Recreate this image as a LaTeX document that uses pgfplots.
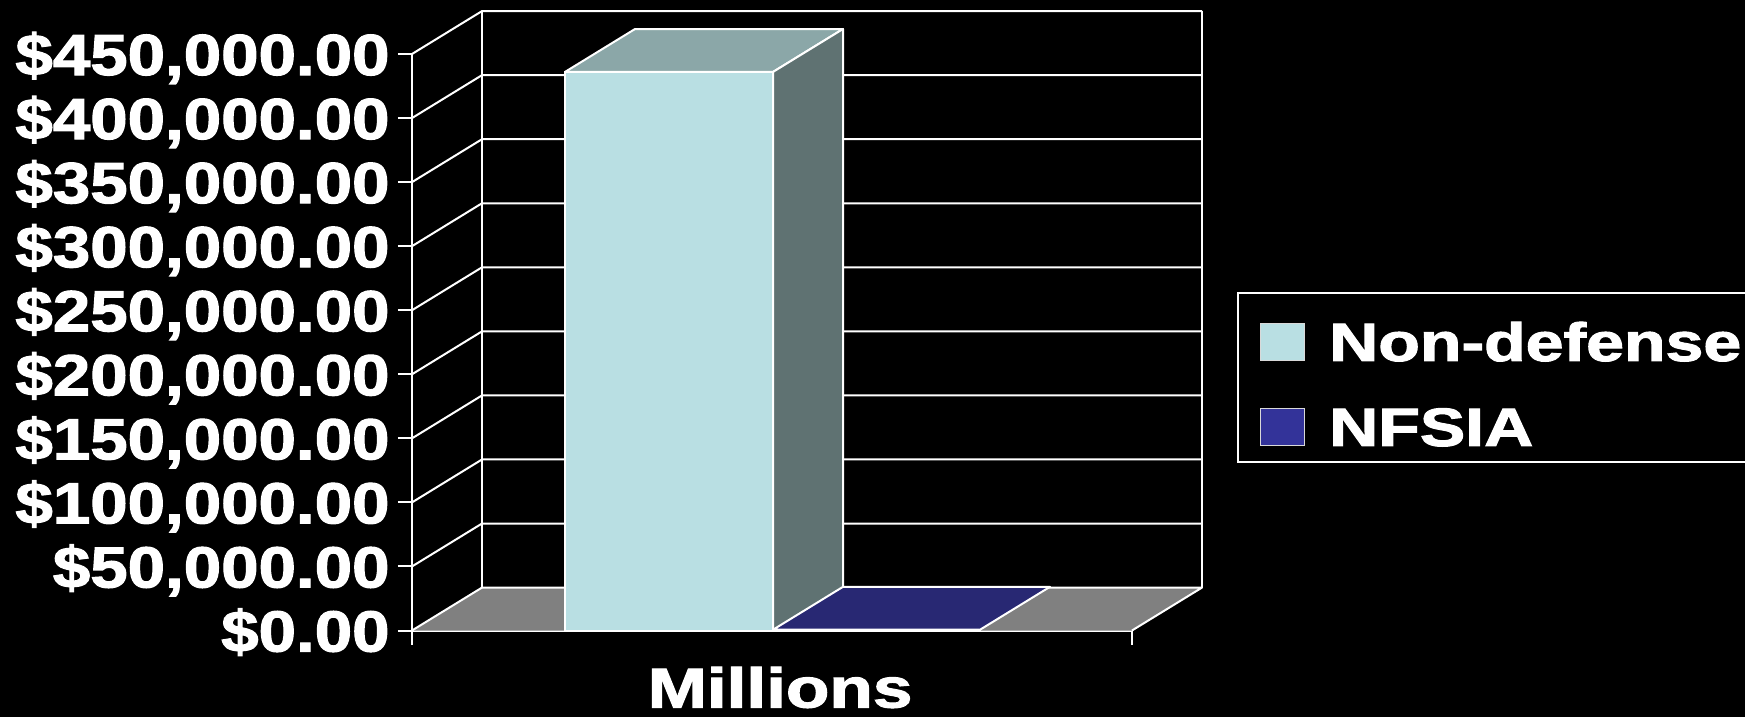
\documentclass[border=0pt]{standalone}
\usepackage{pgfplots}
\pgfplotsset{compat=1.18}
\usepackage{fontspec}
\setmainfont{Liberation Sans}[BoldFeatures={FakeBold=1.8}]
\usepackage{graphicx}
\definecolor{nondef}{HTML}{B9DFE3}
\definecolor{nondeftop}{HTML}{8BA7A8}
\definecolor{nondefside}{HTML}{5F7272}
\definecolor{nfsia}{HTML}{333399}
\definecolor{nfsiatop}{HTML}{282873}
\definecolor{floorgray}{HTML}{808080}
\newcommand\yl[1]{\scalebox{1.16}[1]{#1}}
\begin{document}
\begin{tikzpicture}
\path[use as bounding box, fill=black] (0,0) rectangle (872.5pt,-358.5pt);
\begin{axis}[
 at={(206pt,-315.25pt)}, anchor=south west,
 scale only axis, width=360pt, height=288.25pt,
 xmin=412, xmax=1132, ymin=0, ymax=450000, enlargelimits=false,
 clip=false, scaled y ticks=false,
 axis x line=bottom, axis y line=left,
 axis line style={-, white, line width=1pt},
 every tick/.style={white, line width=1pt},
 tick align=outside, major tick length=7pt,
 xtick={412,1132}, xticklabels={},
 ytick={0,50000,100000,150000,200000,250000,300000,350000,400000,450000},
 yticklabels={\yl{\$0.00},\yl{\$50,000.00},\yl{\$100,000.00},\yl{\$150,000.00},\yl{\$200,000.00},\yl{\$250,000.00},\yl{\$300,000.00},\yl{\$350,000.00},\yl{\$400,000.00},\yl{\$450,000.00}},
 yticklabel style={font=\bfseries\fontsize{29}{29}\selectfont, text=white, anchor=base east, inner sep=0pt, xshift=-4pt, yshift=-10.5pt},
 xlabel={\scalebox{1.27}[1]{Millions}},
 xlabel style={font=\bfseries\fontsize{28}{28}\selectfont, text=white, at={(axis description cs:0.5,0)}, anchor=base, inner sep=0pt, yshift=-38.5pt, xshift=4pt},
 legend style={at={(1.1458,0.5872)}, anchor=north west, fill=black, draw=white, line width=1pt, text=white,
   font=\bfseries\fontsize{27}{27}\selectfont, inner xsep=11pt, inner ysep=8pt, row sep=16.5pt, column sep=12pt,
   nodes={inner sep=0pt, text height=26pt, text depth=0pt}},
 legend cell align=left,
 sq legend/.style={legend image code/.code={\draw[##1, draw=white!85!black, line width=0.6pt] (0pt,-12.58pt) rectangle (22pt,5.92pt);}},
]
% floor
\fill[floorgray] (axis cs:412,0) -- (axis cs:1132,0) -- (axis cs:1202,33500) -- (axis cs:482,33500) -- cycle;
% side wall and back wall grid lines
\begin{scope}[white, line width=1pt, line join=round]
\draw (axis cs:412,0) -- (axis cs:482,33500) -- (axis cs:1202,33500) -- (axis cs:1132,0);
\draw (axis cs:412,50000) -- (axis cs:482,83500) -- (axis cs:1202,83500);
\draw (axis cs:412,100000) -- (axis cs:482,133500) -- (axis cs:1202,133500);
\draw (axis cs:412,150000) -- (axis cs:482,183500) -- (axis cs:1202,183500);
\draw (axis cs:412,200000) -- (axis cs:482,233500) -- (axis cs:1202,233500);
\draw (axis cs:412,250000) -- (axis cs:482,283500) -- (axis cs:1202,283500);
\draw (axis cs:412,300000) -- (axis cs:482,333500) -- (axis cs:1202,333500);
\draw (axis cs:412,350000) -- (axis cs:482,383500) -- (axis cs:1202,383500);
\draw (axis cs:412,400000) -- (axis cs:482,433500) -- (axis cs:1202,433500);
\draw (axis cs:412,450000) -- (axis cs:482,483500) -- (axis cs:1202,483500);
\draw (axis cs:482,33500) -- (axis cs:482,483500);
\draw (axis cs:1202,33500) -- (axis cs:1202,483500);
\end{scope}
% Non-defense bar
\addplot[ybar, bar width=104pt, bar shift=0pt, fill=nondef, draw=white, line width=1pt, sq legend] coordinates {(669,436000)};
\addlegendentry{\scalebox{1.26}[1]{Non-defense}}
\addplot[fill=nondeftop, draw=white, line width=1pt, line join=round, forget plot] coordinates {(565,436000) (773,436000) (843,469500) (635,469500) (565,436000)};
\addplot[fill=nondefside, draw=white, line width=1pt, line join=round, forget plot] coordinates {(773,0) (843,33500) (843,469500) (773,436000) (773,0)};
% NFSIA bar
\addplot[ybar, bar width=103.5pt, bar shift=0pt, fill=nfsia, draw=white, line width=1pt, sq legend] coordinates {(876.5,600)};
\addlegendentry{\scalebox{1.26}[1]{NFSIA}}
\addplot[fill=nfsiatop, draw=white, line width=1pt, line join=round, forget plot] coordinates {(773,600) (980,600) (1050,34100) (843,34100) (773,600)};
\end{axis}
\end{tikzpicture}
\end{document}
